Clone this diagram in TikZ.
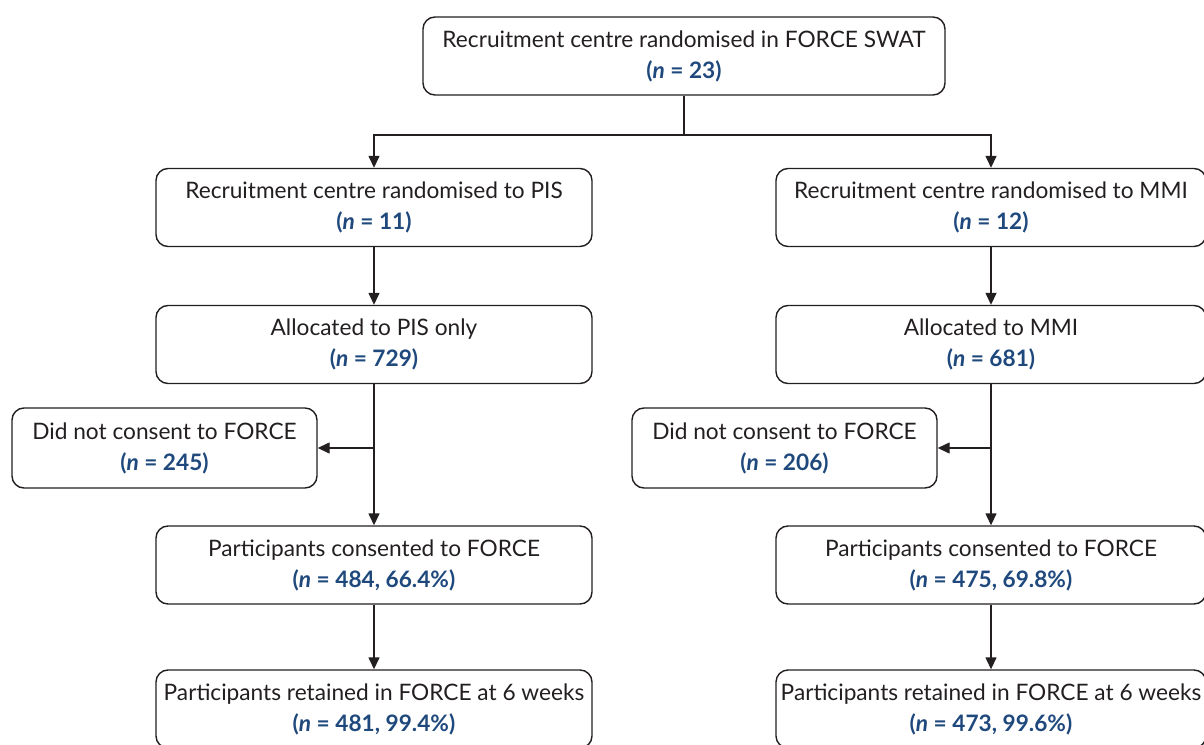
\documentclass[tikz,border=0pt]{standalone}
\usepackage{fontspec}
\setmainfont{Lato}
\usetikzlibrary{arrows.meta}
\definecolor{nblue}{RGB}{31,73,125}
\definecolor{ink}{RGB}{35,31,32}
\newcommand{\nval}[1]{{\color{nblue}\bfseries(\textit{n} = #1)}}
\begin{document}
\begin{tikzpicture}[box node/.style={draw=ink, text=ink, thick, rounded corners=0.24cm, align=center, minimum height=1.56cm, font=\fontsize{12.9}{17.6}\selectfont, inner sep=0pt},
  wide node/.style={box node, minimum width=8.72cm},
  flow/.style={-{Triangle[length=2.4mm,width=2.2mm]}, thick, draw=ink}]
  \useasboundingbox (0,0) rectangle (24.08,-14.9);

  \node[box node, minimum width=10.44cm] (top) at (13.68,-1.12) {Recruitment centre randomised in FORCE SWAT\\ \nval{23}};
  \node[wide node] (pis) at (7.48,-4.15) {Recruitment centre randomised to PIS\\ \nval{11}};
  \node[wide node, minimum width=8.6cm] (mmi) at (19.82,-4.15) {Recruitment centre randomised to MMI\\ \nval{12}};
  \node[wide node] (pisalloc) at (7.48,-6.89) {Allocated to PIS only\\ \nval{729}};
  \node[wide node, minimum width=8.6cm] (mmialloc) at (19.82,-6.89) {Allocated to MMI\\ \nval{681}};
  \node[box node, minimum width=6.1cm, minimum height=1.6cm] (pisno) at (3.29,-8.96) {Did not consent to FORCE\\ \nval{245}};
  \node[box node, minimum width=6.1cm, minimum height=1.6cm] (mmino) at (15.69,-8.96) {Did not consent to FORCE\\ \nval{206}};
  \node[wide node] (piscons) at (7.48,-11.3) {Participants consented to FORCE\\ \nval{484, 66.4\%}};
  \node[wide node, minimum width=8.6cm] (mmicons) at (19.82,-11.3) {Participants consented to FORCE\\ \nval{475, 69.8\%}};
  \node[wide node] (pisret) at (7.48,-14.18) {Participants retained in FORCE at 6 weeks\\ \nval{481, 99.4\%}};
  \node[wide node, minimum width=8.6cm] (mmiret) at (19.82,-14.18) {Participants retained in FORCE at 6 weeks\\ \nval{473, 99.6\%}};

  \coordinate (split) at (13.68,-2.7);
  \coordinate (pisbr) at (7.48,-8.96);
  \coordinate (mmibr) at (19.82,-8.96);

  \draw[thick, ink] (top) -- (split);
  \draw[flow] (split) -| (pis);
  \draw[flow] (split) -| (mmi);
  \draw[flow] (pis) -- (pisalloc);
  \draw[flow] (mmi) -- (mmialloc);
  \draw[flow] (pisalloc) -- (piscons);
  \draw[flow] (mmialloc) -- (mmicons);
  \draw[flow] (pisbr) -- (pisno);
  \draw[flow] (mmibr) -- (mmino);
  \draw[flow] (piscons) -- (pisret);
  \draw[flow] (mmicons) -- (mmiret);
\end{tikzpicture}
\end{document}
